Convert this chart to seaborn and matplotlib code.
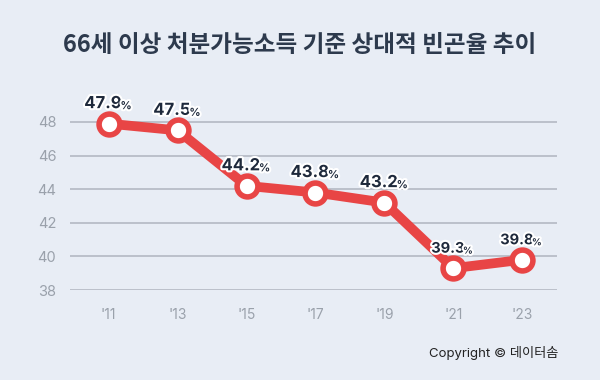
import seaborn as sns
import matplotlib.pyplot as plt
import matplotlib.patheffects as pe
import pandas as pd

years = [2011, 2013, 2015, 2017, 2019, 2021, 2023]
tick_labels = ["'11", "'13", "'15", "'17", "'19", "'21", "'23"]
rates = [47.9, 47.5, 44.2, 43.8, 43.2, 39.3, 39.8]

df = pd.DataFrame({'year': years, 'rate': rates})

bg = '#e8edf5'
red = '#e84545'
navy = '#1e293b'

sns.set_style('white')
plt.rcParams['font.family'] = ['Inter', 'Noto Sans CJK KR', 'DejaVu Sans']

fig = plt.figure(figsize=(6, 3.8), dpi=100, facecolor=bg)
ax = fig.add_axes([0.1167, 0.2368, 0.8113, 0.513])
ax.set_facecolor(bg)

sns.lineplot(data=df, x='year', y='rate', ax=ax, color=red, linewidth=7,
             marker='o', markersize=15, markerfacecolor='white',
             markeredgecolor=red, markeredgewidth=4, zorder=3)

ax.set_xlim(2011 - 1.12, 2023 + 1.0)
ax.set_ylim(38, 49.6)
ax.set_yticks([38, 40, 42, 44, 46, 48])
ax.set_xticks(years)
ax.set_xticklabels(tick_labels)
ax.grid(axis='y', color='#b4b9c3', linewidth=1.2)
ax.set_axisbelow(True)
for s in ax.spines.values():
    s.set_visible(False)
ax.tick_params(axis='x', length=7, width=1.2, color='#b4b9c3', pad=6,
               labelsize=10, labelcolor='#9aa1ab')
ax.tick_params(axis='y', length=0, pad=10, labelsize=10.5, labelcolor='#9aa1ab')
ax.set_xlabel('')
ax.set_ylabel('')

stroke = [pe.withStroke(linewidth=3, foreground='white')]
for i, (x, y) in enumerate(zip(years, rates)):
    fs = 12 if i < 5 else 10.5
    t = ax.annotate(f'{y:.1f}', (x, y), xytext=(-4, 9), textcoords='offset points',
                    ha='center', va='bottom', fontsize=fs, fontweight='bold',
                    color=navy, path_effects=stroke, zorder=5)
    ax.annotate('%', xy=(1, 0), xycoords=t, xytext=(-1, 0), textcoords='offset points',
                ha='left', va='bottom', fontsize=fs * 0.66, fontweight='bold',
                color=navy, path_effects=stroke, zorder=5)

fig.text(0.5, 0.882, '66세 이상 처분가능소득 기준 상대적 빈곤율 추이', ha='center', va='center',
         fontsize=17, fontweight='bold', color='#2d3a4d',
         family=['Noto Sans CJK KR', 'DejaVu Sans'])
fig.text(0.715, 0.072, 'Copyright © 데이터솜', ha='left', va='center',
         fontsize=9.5, color='#222222')

fig.savefig('out.png', dpi=100, facecolor=bg)
